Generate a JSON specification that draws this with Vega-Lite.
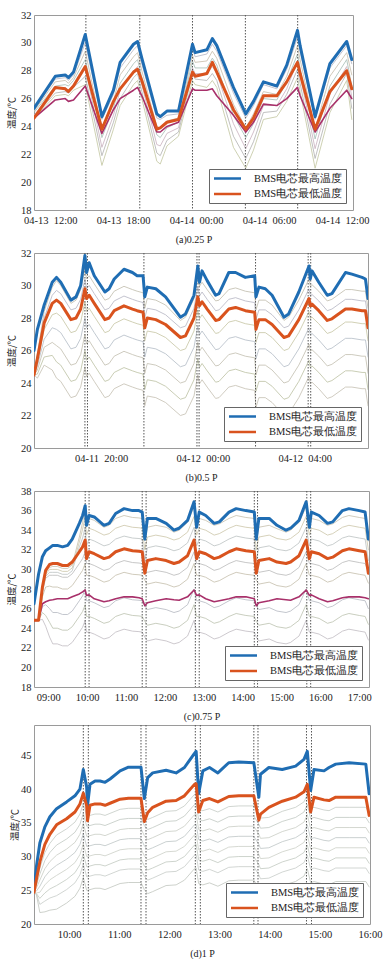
{
"$schema": "https://vega.github.io/schema/vega-lite/v6.json",
"padding": {"left": 6, "top": 9, "right": 2, "bottom": 0},
"background": "white",
"spacing": 2,
"config": {
  "view": {"stroke": "#9a9a9a", "strokeWidth": 1},
  "axis": {"domain": false, "grid": false, "ticks": false, "labelOverlap": false, "labelFont": "Liberation Serif", "labelFontSize": 10.5, "labelColor": "#222", "labelPadding": 3, "titleFont": "Liberation Serif", "titleFontSize": 10, "titleFontWeight": "normal", "titleColor": "#222"},
  "axisY": {"titleFont": "Noto Sans CJK SC", "titleFontSize": 9.5, "titlePadding": 4, "labelOverlap": false},
  "axisX": {"titlePadding": 9, "labelPadding": 5, "labelFlush": false},
  "legend": {"orient": "bottom-right", "offset": 7, "fillColor": "#fff", "strokeColor": "#666", "padding": 3, "symbolType": "M-2.7,0H2.7", "symbolSize": 100, "symbolStrokeWidth": 2.5, "symbolOffset": 9, "labelOffset": 20, "labelFont": "Liberation Serif", "labelFontSize": 10.5, "labelColor": "#222", "rowPadding": 3.5},
  "line": {"strokeJoin": "round", "strokeCap": "round"}
},
"datasets": {
  "a": [
    {"t":"2021-04-13T10:40","max":25.3,"min":24.6,"p":24.6,"g1":25.2,"g2":25.1,"g3":25.0,"g4":24.8,"g5":24.7,"g6":24.6},
    {"t":"2021-04-13T12:25","max":27.6,"min":26.8,"p":25.9,"g1":27.4,"g2":27.2,"g3":26.9,"g4":26.7,"g5":26.4,"g6":26.2},
    {"t":"2021-04-13T13:14","max":27.7,"min":26.7,"p":26.0,"g1":27.5,"g2":27.3,"g3":27.0,"g4":26.8,"g5":26.5,"g6":26.3},
    {"t":"2021-04-13T13:30","max":27.5,"min":26.5,"p":25.8,"g1":27.3,"g2":27.1,"g3":26.9,"g4":26.6,"g5":26.4,"g6":26.2},
    {"t":"2021-04-13T13:55","max":27.9,"min":26.9,"p":25.9,"g1":27.7,"g2":27.5,"g3":27.3,"g4":27.0,"g5":26.8,"g6":26.6},
    {"t":"2021-04-13T14:53","max":30.6,"min":28.3,"p":26.9,"g1":30.0,"g2":29.4,"g3":28.8,"g4":28.2,"g5":27.6,"g6":27.0},
    {"t":"2021-04-13T16:15","max":24.7,"min":23.8,"p":23.5,"g1":24.5,"g2":23.8,"g3":23.2,"g4":22.5,"g5":21.9,"g6":21.2},
    {"t":"2021-04-13T17:12","max":26.6,"min":25.8,"p":25.2,"g1":26.3,"g2":25.8,"g3":25.3,"g4":24.8,"g5":24.3,"g6":23.8},
    {"t":"2021-04-13T17:45","max":28.6,"min":26.7,"p":26.0,"g1":28.2,"g2":27.7,"g3":27.1,"g4":26.6,"g5":26.0,"g6":25.5},
    {"t":"2021-04-13T18:51","max":29.9,"min":27.9,"p":26.6,"g1":29.5,"g2":29.0,"g3":28.5,"g4":28.0,"g5":27.5,"g6":27.0},
    {"t":"2021-04-13T19:11","max":30.1,"min":28.1,"p":26.8,"g1":29.8,"g2":29.3,"g3":28.8,"g4":28.3,"g5":27.8,"g6":27.3},
    {"t":"2021-04-13T19:32","max":28.9,"min":27.3,"p":26.2,"g1":28.5,"g2":28.0,"g3":27.5,"g4":27.0,"g5":26.5,"g6":26.0},
    {"t":"2021-04-13T20:46","max":24.9,"min":23.8,"p":23.6,"g1":24.6,"g2":24.0,"g3":23.4,"g4":22.7,"g5":22.1,"g6":21.5},
    {"t":"2021-04-13T21:03","max":24.7,"min":23.9,"p":23.6,"g1":24.5,"g2":23.9,"g3":23.2,"g4":22.6,"g5":21.9,"g6":21.3},
    {"t":"2021-04-13T21:36","max":25.1,"min":24.3,"p":24.0,"g1":24.8,"g2":24.4,"g3":23.9,"g4":23.5,"g5":23.0,"g6":22.6},
    {"t":"2021-04-13T22:33","max":25.1,"min":24.5,"p":24.3,"g1":24.9,"g2":24.6,"g3":24.3,"g4":23.9,"g5":23.6,"g6":23.3},
    {"t":"2021-04-13T23:42","max":29.9,"min":27.9,"p":26.7,"g1":29.6,"g2":29.1,"g3":28.7,"g4":28.2,"g5":27.8,"g6":27.3},
    {"t":"2021-04-13T23:55","max":29.3,"min":27.6,"p":26.6,"g1":29.0,"g2":28.6,"g3":28.2,"g4":27.8,"g5":27.4,"g6":27.0},
    {"t":"2021-04-14T00:53","max":29.5,"min":27.8,"p":26.6,"g1":29.2,"g2":28.7,"g3":28.2,"g4":27.8,"g5":27.3,"g6":26.8},
    {"t":"2021-04-14T01:20","max":30.3,"min":28.6,"p":26.7,"g1":29.9,"g2":29.4,"g3":28.9,"g4":28.3,"g5":27.8,"g6":27.3},
    {"t":"2021-04-14T01:42","max":29.8,"min":27.9,"p":26.2,"g1":29.4,"g2":28.9,"g3":28.4,"g4":27.8,"g5":27.3,"g6":26.8},
    {"t":"2021-04-14T03:04","max":26.8,"min":25.2,"p":24.8,"g1":26.4,"g2":25.6,"g3":24.8,"g4":24.2,"g5":23.3,"g6":22.5},
    {"t":"2021-04-14T04:05","max":24.9,"min":23.8,"p":23.6,"g1":24.6,"g2":23.9,"g3":23.2,"g4":22.4,"g5":21.7,"g6":21.0},
    {"t":"2021-04-14T04:43","max":25.8,"min":24.6,"p":24.3,"g1":25.5,"g2":24.9,"g3":24.2,"g4":23.6,"g5":22.9,"g6":22.3},
    {"t":"2021-04-14T05:32","max":27.2,"min":26.2,"p":25.6,"g1":27.0,"g2":26.5,"g3":26.0,"g4":25.5,"g5":25.0,"g6":24.5},
    {"t":"2021-04-14T06:38","max":26.9,"min":26.2,"p":25.5,"g1":26.7,"g2":26.3,"g3":25.9,"g4":25.5,"g5":25.1,"g6":24.7},
    {"t":"2021-04-14T07:27","max":28.4,"min":27.2,"p":26.0,"g1":28.1,"g2":27.6,"g3":27.2,"g4":26.7,"g5":26.3,"g6":25.8},
    {"t":"2021-04-14T08:20","max":30.9,"min":28.6,"p":26.8,"g1":30.4,"g2":29.8,"g3":29.2,"g4":28.7,"g5":28.1,"g6":27.5},
    {"t":"2021-04-14T08:33","max":29.8,"min":27.8,"p":26.2,"g1":29.4,"g2":28.8,"g3":28.2,"g4":27.7,"g5":27.1,"g6":26.5},
    {"t":"2021-04-14T09:47","max":24.7,"min":23.8,"p":23.6,"g1":24.5,"g2":23.8,"g3":23.1,"g4":22.4,"g5":21.7,"g6":21.0},
    {"t":"2021-04-14T11:00","max":28.5,"min":26.5,"p":25.3,"g1":28.2,"g2":27.6,"g3":26.9,"g4":26.3,"g5":25.6,"g6":25.0},
    {"t":"2021-04-14T12:23","max":30.1,"min":28.0,"p":26.6,"g1":29.8,"g2":29.3,"g3":28.8,"g4":28.3,"g5":27.8,"g6":27.3},
    {"t":"2021-04-14T12:48","max":28.8,"min":26.7,"p":26.0,"g1":28.5,"g2":27.7,"g3":26.9,"g4":26.1,"g5":25.3,"g6":24.5}
  ],
  "a_dash": [{"t":"2021-04-13T14:56"},{"t":"2021-04-13T19:22"},{"t":"2021-04-13T23:42"},{"t":"2021-04-14T04:03"},{"t":"2021-04-14T08:21"}],
  "b": [
    {"t":"2021-04-11T17:22","max":26.0,"min":24.5,"g1":24.5,"g2":24.5,"g3":24.5,"g4":24.5,"g5":24.5,"g6":24.5,"g7":24.5},
    {"t":"2021-04-11T17:30","max":27.3,"min":25.5,"g1":25.8,"g2":25.65,"g3":25.3,"g4":25.05,"g5":24.8,"g6":24.55,"g7":24.3},
    {"t":"2021-04-11T17:46","max":28.8,"min":27.7,"g1":28.4,"g2":28.0,"g3":27.3,"g4":26.7,"g5":26.2,"g6":25.6,"g7":25.1},
    {"t":"2021-04-11T18:05","max":30.2,"min":28.9,"g1":29.9,"g2":29.4,"g3":28.2,"g4":27.4,"g5":26.5,"g6":25.7,"g7":24.8},
    {"t":"2021-04-11T18:15","max":30.5,"min":29.1,"g1":30.3,"g2":29.7,"g3":28.3,"g4":27.3,"g5":26.3,"g6":25.3,"g7":24.3},
    {"t":"2021-04-11T18:25","max":30.2,"min":28.9,"g1":30.0,"g2":29.5,"g3":28.1,"g4":27.1,"g5":26.1,"g6":25.1,"g7":24.1},
    {"t":"2021-04-11T18:49","max":29.1,"min":27.9,"g1":28.9,"g2":28.5,"g3":27.1,"g4":26.1,"g5":25.1,"g6":24.1,"g7":23.1},
    {"t":"2021-04-11T19:01","max":29.3,"min":28.0,"g1":29.1,"g2":28.6,"g3":27.2,"g4":26.2,"g5":25.2,"g6":24.2,"g7":23.2},
    {"t":"2021-04-11T19:12","max":30.0,"min":28.55,"g1":29.75,"g2":29.15,"g3":27.75,"g4":26.75,"g5":25.75,"g6":24.75,"g7":23.75},
    {"t":"2021-04-11T19:22","max":31.85,"min":29.8,"g1":31.0,"g2":30.4,"g3":29.0,"g4":28.0,"g5":27.0,"g6":26.0,"g7":25.0},
    {"t":"2021-04-11T19:26","max":30.8,"min":29.2,"g1":30.4,"g2":29.8,"g3":28.4,"g4":27.4,"g5":26.4,"g6":25.4,"g7":24.4},
    {"t":"2021-04-11T19:32","max":31.4,"min":29.4,"g1":30.6,"g2":30.0,"g3":28.6,"g4":27.6,"g5":26.6,"g6":25.6,"g7":24.6},
    {"t":"2021-04-11T19:44","max":30.6,"min":28.9,"g1":30.1,"g2":29.5,"g3":28.1,"g4":27.1,"g5":26.1,"g6":25.1,"g7":24.1},
    {"t":"2021-04-11T20:09","max":29.6,"min":27.9,"g1":29.1,"g2":28.5,"g3":27.1,"g4":26.1,"g5":25.1,"g6":24.1,"g7":23.1},
    {"t":"2021-04-11T20:19","max":29.8,"min":28.0,"g1":29.2,"g2":28.6,"g3":27.2,"g4":26.2,"g5":25.2,"g6":24.2,"g7":23.2},
    {"t":"2021-04-11T20:31","max":30.4,"min":28.45,"g1":29.65,"g2":29.05,"g3":27.65,"g4":26.65,"g5":25.65,"g6":24.65,"g7":23.65},
    {"t":"2021-04-11T20:54","max":31.0,"min":28.75,"g1":29.95,"g2":29.35,"g3":27.95,"g4":26.95,"g5":25.95,"g6":24.95,"g7":23.95},
    {"t":"2021-04-11T21:14","max":30.8,"min":28.55,"g1":29.75,"g2":29.15,"g3":27.75,"g4":26.75,"g5":25.75,"g6":24.75,"g7":23.75},
    {"t":"2021-04-11T21:25","max":30.6,"min":28.45,"g1":29.65,"g2":29.05,"g3":27.65,"g4":26.65,"g5":25.65,"g6":24.65,"g7":23.65},
    {"t":"2021-04-11T21:39","max":30.6,"min":28.35,"g1":29.55,"g2":28.95,"g3":27.55,"g4":26.55,"g5":25.55,"g6":24.55,"g7":23.55},
    {"t":"2021-04-11T21:43","max":29.3,"min":27.4,"g1":28.6,"g2":28.0,"g3":26.6,"g4":25.6,"g5":24.6,"g6":23.6,"g7":22.6},
    {"t":"2021-04-11T21:49","max":29.9,"min":28.0,"g1":29.2,"g2":28.6,"g3":27.2,"g4":26.2,"g5":25.2,"g6":24.2,"g7":23.2},
    {"t":"2021-04-11T22:09","max":29.8,"min":27.9,"g1":29.1,"g2":28.5,"g3":27.1,"g4":26.1,"g5":25.1,"g6":24.1,"g7":23.1},
    {"t":"2021-04-11T22:32","max":29.3,"min":27.6,"g1":28.8,"g2":28.2,"g3":26.8,"g4":25.8,"g5":24.8,"g6":23.8,"g7":22.8},
    {"t":"2021-04-11T23:07","max":28.05,"min":26.8,"g1":27.85,"g2":27.4,"g3":26.0,"g4":25.0,"g5":24.0,"g6":23.0,"g7":22.0},
    {"t":"2021-04-11T23:19","max":28.25,"min":26.9,"g1":28.05,"g2":27.5,"g3":26.1,"g4":25.1,"g5":24.1,"g6":23.1,"g7":22.1},
    {"t":"2021-04-11T23:39","max":29.4,"min":28.0,"g1":29.2,"g2":28.6,"g3":27.2,"g4":26.2,"g5":25.2,"g6":24.2,"g7":23.2},
    {"t":"2021-04-11T23:48","max":31.2,"min":29.3,"g1":30.5,"g2":29.9,"g3":28.5,"g4":27.5,"g5":26.5,"g6":25.5,"g7":24.5},
    {"t":"2021-04-11T23:52","max":30.2,"min":28.75,"g1":29.95,"g2":29.35,"g3":27.95,"g4":26.95,"g5":25.95,"g6":24.95,"g7":23.95},
    {"t":"2021-04-11T23:58","max":30.9,"min":29.0,"g1":30.2,"g2":29.6,"g3":28.2,"g4":27.2,"g5":26.2,"g6":25.2,"g7":24.2},
    {"t":"2021-04-12T00:10","max":30.3,"min":28.55,"g1":29.75,"g2":29.15,"g3":27.75,"g4":26.75,"g5":25.75,"g6":24.75,"g7":23.75},
    {"t":"2021-04-12T00:30","max":29.4,"min":27.85,"g1":29.05,"g2":28.45,"g3":27.05,"g4":26.05,"g5":25.05,"g6":24.05,"g7":23.05},
    {"t":"2021-04-12T00:38","max":29.5,"min":27.9,"g1":29.1,"g2":28.5,"g3":27.1,"g4":26.1,"g5":25.1,"g6":24.1,"g7":23.1},
    {"t":"2021-04-12T01:01","max":30.8,"min":28.55,"g1":29.75,"g2":29.15,"g3":27.75,"g4":26.75,"g5":25.75,"g6":24.75,"g7":23.75},
    {"t":"2021-04-12T01:17","max":30.8,"min":28.65,"g1":29.85,"g2":29.25,"g3":27.85,"g4":26.85,"g5":25.85,"g6":24.85,"g7":23.85},
    {"t":"2021-04-12T01:40","max":30.5,"min":28.45,"g1":29.65,"g2":29.05,"g3":27.65,"g4":26.65,"g5":25.65,"g6":24.65,"g7":23.65},
    {"t":"2021-04-12T02:02","max":30.6,"min":28.35,"g1":29.55,"g2":28.95,"g3":27.55,"g4":26.55,"g5":25.55,"g6":24.55,"g7":23.55},
    {"t":"2021-04-12T02:05","max":29.3,"min":27.3,"g1":28.5,"g2":27.9,"g3":26.5,"g4":25.5,"g5":24.5,"g6":23.5,"g7":22.5},
    {"t":"2021-04-12T02:12","max":29.9,"min":27.9,"g1":29.1,"g2":28.5,"g3":27.1,"g4":26.1,"g5":25.1,"g6":24.1,"g7":23.1},
    {"t":"2021-04-12T02:27","max":29.8,"min":27.9,"g1":29.1,"g2":28.5,"g3":27.1,"g4":26.1,"g5":25.1,"g6":24.1,"g7":23.1},
    {"t":"2021-04-12T02:43","max":29.4,"min":27.6,"g1":28.8,"g2":28.2,"g3":26.8,"g4":25.8,"g5":24.8,"g6":23.8,"g7":22.8},
    {"t":"2021-04-12T03:11","max":28.05,"min":26.8,"g1":27.85,"g2":27.4,"g3":26.0,"g4":25.0,"g5":24.0,"g6":23.0,"g7":22.0},
    {"t":"2021-04-12T03:22","max":28.25,"min":26.9,"g1":28.05,"g2":27.5,"g3":26.1,"g4":25.1,"g5":24.1,"g6":23.1,"g7":22.1},
    {"t":"2021-04-12T03:46","max":29.6,"min":27.9,"g1":29.1,"g2":28.5,"g3":27.1,"g4":26.1,"g5":25.1,"g6":24.1,"g7":23.1},
    {"t":"2021-04-12T04:10","max":31.2,"min":29.2,"g1":30.4,"g2":29.8,"g3":28.4,"g4":27.4,"g5":26.4,"g6":25.4,"g7":24.4},
    {"t":"2021-04-12T04:13","max":30.4,"min":28.75,"g1":29.95,"g2":29.35,"g3":27.95,"g4":26.95,"g5":25.95,"g6":24.95,"g7":23.95},
    {"t":"2021-04-12T04:17","max":30.9,"min":28.85,"g1":30.05,"g2":29.45,"g3":28.05,"g4":27.05,"g5":26.05,"g6":25.05,"g7":24.05},
    {"t":"2021-04-12T04:33","max":30.2,"min":28.45,"g1":29.65,"g2":29.05,"g3":27.65,"g4":26.65,"g5":25.65,"g6":24.65,"g7":23.65},
    {"t":"2021-04-12T04:53","max":29.4,"min":27.85,"g1":29.05,"g2":28.45,"g3":27.05,"g4":26.05,"g5":25.05,"g6":24.05,"g7":23.05},
    {"t":"2021-04-12T05:04","max":29.5,"min":27.95,"g1":29.15,"g2":28.55,"g3":27.15,"g4":26.15,"g5":25.15,"g6":24.15,"g7":23.15},
    {"t":"2021-04-12T05:36","max":30.8,"min":28.55,"g1":29.75,"g2":29.15,"g3":27.75,"g4":26.75,"g5":25.75,"g6":24.75,"g7":23.75},
    {"t":"2021-04-12T05:51","max":30.7,"min":28.55,"g1":29.75,"g2":29.15,"g3":27.75,"g4":26.75,"g5":25.75,"g6":24.75,"g7":23.75},
    {"t":"2021-04-12T06:15","max":30.5,"min":28.45,"g1":29.65,"g2":29.05,"g3":27.65,"g4":26.65,"g5":25.65,"g6":24.65,"g7":23.65},
    {"t":"2021-04-12T06:23","max":30.4,"min":28.45,"g1":29.65,"g2":29.05,"g3":27.65,"g4":26.65,"g5":25.65,"g6":24.65,"g7":23.65},
    {"t":"2021-04-12T06:29","max":29.2,"min":27.4,"g1":28.6,"g2":28.0,"g3":26.6,"g4":25.6,"g5":24.6,"g6":23.6,"g7":22.6}
  ],
  "b_dash": [{"t":"2021-04-11T19:22"},{"t":"2021-04-11T19:28"},{"t":"2021-04-11T21:41"},{"t":"2021-04-11T23:46"},{"t":"2021-04-11T23:51"},{"t":"2021-04-12T02:04"},{"t":"2021-04-12T04:08"},{"t":"2021-04-12T04:14"}],
  "c": [
    {"t":"2021-04-15T08:38","max":26.5,"min":24.8,"p":24.8,"g1":24.8,"g2":24.8,"g3":24.8,"g4":24.8,"g5":24.8,"g6":24.8,"g7":24.8,"g8":24.8},
    {"t":"2021-04-15T08:45","max":29.5,"min":24.8,"p":24.8,"g1":24.8,"g2":24.8,"g3":24.8,"g4":24.8,"g5":24.8,"g6":24.8,"g7":24.8,"g8":24.8},
    {"t":"2021-04-15T08:51","max":31.3,"min":28.2,"p":26.5,"g1":28.1,"g2":28.0,"g3":27.8,"g4":27.7,"g5":27.2,"g6":26.2,"g7":25.6,"g8":24.9},
    {"t":"2021-04-15T08:56","max":31.9,"min":29.9,"p":26.7,"g1":29.7,"g2":29.5,"g3":29.3,"g4":29.1,"g5":28.2,"g6":26.4,"g7":25.3,"g8":24.2},
    {"t":"2021-04-15T09:02","max":32.2,"min":30.5,"p":26.85,"g1":30.2,"g2":30.0,"g3":29.7,"g4":29.4,"g5":28.3,"g6":26.0,"g7":24.6,"g8":23.1},
    {"t":"2021-04-15T09:07","max":32.45,"min":30.6,"p":26.9,"g1":30.3,"g2":30.0,"g3":29.7,"g4":29.4,"g5":28.2,"g6":25.6,"g7":24.0,"g8":22.4},
    {"t":"2021-04-15T09:14","max":32.45,"min":30.6,"p":27.0,"g1":30.3,"g2":30.0,"g3":29.7,"g4":29.4,"g5":28.2,"g6":25.6,"g7":24.0,"g8":22.4},
    {"t":"2021-04-15T09:22","max":32.3,"min":30.4,"p":27.0,"g1":30.1,"g2":29.8,"g3":29.5,"g4":29.2,"g5":28.0,"g6":25.4,"g7":23.8,"g8":22.2},
    {"t":"2021-04-15T09:30","max":32.45,"min":30.4,"p":27.0,"g1":30.1,"g2":29.8,"g3":29.5,"g4":29.2,"g5":28.0,"g6":25.4,"g7":23.8,"g8":22.2},
    {"t":"2021-04-15T09:37","max":33.1,"min":30.75,"p":27.2,"g1":30.45,"g2":30.15,"g3":29.85,"g4":29.55,"g5":28.35,"g6":25.75,"g7":24.15,"g8":22.55},
    {"t":"2021-04-15T09:48","max":34.7,"min":31.8,"p":27.5,"g1":33.3,"g2":32.8,"g3":32.3,"g4":30.6,"g5":29.4,"g6":26.8,"g7":25.2,"g8":23.6},
    {"t":"2021-04-15T09:53","max":35.5,"min":32.3,"p":27.7,"g1":34.8,"g2":34.1,"g3":33.2,"g4":31.1,"g5":29.9,"g6":27.3,"g7":25.7,"g8":24.1},
    {"t":"2021-04-15T09:57","max":36.5,"min":33.0,"p":27.9,"g1":36.4,"g2":35.4,"g3":34.3,"g4":31.8,"g5":30.6,"g6":28.0,"g7":26.4,"g8":24.8},
    {"t":"2021-04-15T09:59","max":34.5,"min":31.1,"p":27.35,"g1":34.3,"g2":33.5,"g3":32.4,"g4":30.6,"g5":29.4,"g6":26.8,"g7":25.2,"g8":23.6},
    {"t":"2021-04-15T10:03","max":35.5,"min":31.8,"p":27.4,"g1":35.2,"g2":34.2,"g3":33.1,"g4":30.6,"g5":29.4,"g6":26.8,"g7":25.2,"g8":23.6},
    {"t":"2021-04-15T10:11","max":35.35,"min":31.6,"p":27.0,"g1":35.0,"g2":34.0,"g3":32.9,"g4":30.4,"g5":29.2,"g6":26.6,"g7":25.0,"g8":23.4},
    {"t":"2021-04-15T10:26","max":34.5,"min":31.1,"p":26.7,"g1":34.3,"g2":33.5,"g3":32.4,"g4":29.9,"g5":28.7,"g6":26.1,"g7":24.5,"g8":22.9},
    {"t":"2021-04-15T10:34","max":34.7,"min":31.25,"p":26.8,"g1":34.5,"g2":33.65,"g3":32.55,"g4":30.05,"g5":28.85,"g6":26.25,"g7":24.65,"g8":23.05},
    {"t":"2021-04-15T10:44","max":35.7,"min":31.8,"p":27.0,"g1":35.2,"g2":34.2,"g3":33.1,"g4":30.6,"g5":29.4,"g6":26.8,"g7":25.2,"g8":23.6},
    {"t":"2021-04-15T10:57","max":36.2,"min":32.1,"p":27.2,"g1":35.5,"g2":34.5,"g3":33.4,"g4":30.9,"g5":29.7,"g6":27.1,"g7":25.5,"g8":23.9},
    {"t":"2021-04-15T11:10","max":36.0,"min":31.9,"p":27.2,"g1":35.3,"g2":34.3,"g3":33.2,"g4":30.7,"g5":29.5,"g6":26.9,"g7":25.3,"g8":23.7},
    {"t":"2021-04-15T11:20","max":36.0,"min":31.85,"p":27.1,"g1":35.25,"g2":34.25,"g3":33.15,"g4":30.65,"g5":29.45,"g6":26.85,"g7":25.25,"g8":23.65},
    {"t":"2021-04-15T11:25","max":35.85,"min":31.8,"p":27.0,"g1":35.2,"g2":34.2,"g3":33.1,"g4":30.6,"g5":29.4,"g6":26.8,"g7":25.2,"g8":23.6},
    {"t":"2021-04-15T11:29","max":33.1,"min":29.6,"p":26.3,"g1":32.9,"g2":32.0,"g3":30.9,"g4":30.1,"g5":28.9,"g6":26.3,"g7":24.7,"g8":23.1},
    {"t":"2021-04-15T11:33","max":35.2,"min":30.9,"p":26.6,"g1":34.3,"g2":33.3,"g3":32.2,"g4":29.7,"g5":28.5,"g6":25.9,"g7":24.3,"g8":22.7},
    {"t":"2021-04-15T11:46","max":35.2,"min":31.1,"p":26.8,"g1":34.5,"g2":33.5,"g3":32.4,"g4":29.9,"g5":28.7,"g6":26.1,"g7":24.5,"g8":22.9},
    {"t":"2021-04-15T12:02","max":34.7,"min":30.9,"p":27.0,"g1":34.3,"g2":33.3,"g3":32.2,"g4":29.7,"g5":28.5,"g6":25.9,"g7":24.3,"g8":22.7},
    {"t":"2021-04-15T12:14","max":34.0,"min":30.6,"p":26.9,"g1":33.8,"g2":33.0,"g3":31.9,"g4":29.4,"g5":28.2,"g6":25.6,"g7":24.0,"g8":22.4},
    {"t":"2021-04-15T12:22","max":34.2,"min":30.75,"p":26.85,"g1":34.0,"g2":33.15,"g3":32.05,"g4":29.55,"g5":28.35,"g6":25.75,"g7":24.15,"g8":22.55},
    {"t":"2021-04-15T12:35","max":35.0,"min":31.4,"p":27.2,"g1":34.8,"g2":33.8,"g3":32.7,"g4":30.2,"g5":29.0,"g6":26.4,"g7":24.8,"g8":23.2},
    {"t":"2021-04-15T12:45","max":36.9,"min":33.0,"p":27.9,"g1":36.4,"g2":35.4,"g3":34.3,"g4":31.8,"g5":30.6,"g6":28.0,"g7":26.4,"g8":24.8},
    {"t":"2021-04-15T12:49","max":34.3,"min":31.1,"p":27.35,"g1":34.1,"g2":33.5,"g3":32.4,"g4":30.6,"g5":29.4,"g6":26.8,"g7":25.2,"g8":23.6},
    {"t":"2021-04-15T12:53","max":35.85,"min":31.8,"p":27.4,"g1":35.2,"g2":34.2,"g3":33.1,"g4":30.6,"g5":29.4,"g6":26.8,"g7":25.2,"g8":23.6},
    {"t":"2021-04-15T13:03","max":35.5,"min":31.6,"p":27.0,"g1":35.0,"g2":34.0,"g3":32.9,"g4":30.4,"g5":29.2,"g6":26.6,"g7":25.0,"g8":23.4},
    {"t":"2021-04-15T13:16","max":34.7,"min":31.1,"p":26.7,"g1":34.5,"g2":33.5,"g3":32.4,"g4":29.9,"g5":28.7,"g6":26.1,"g7":24.5,"g8":22.9},
    {"t":"2021-04-15T13:24","max":34.85,"min":31.25,"p":26.8,"g1":34.65,"g2":33.65,"g3":32.55,"g4":30.05,"g5":28.85,"g6":26.25,"g7":24.65,"g8":23.05},
    {"t":"2021-04-15T13:39","max":35.85,"min":31.8,"p":27.0,"g1":35.2,"g2":34.2,"g3":33.1,"g4":30.6,"g5":29.4,"g6":26.8,"g7":25.2,"g8":23.6},
    {"t":"2021-04-15T13:50","max":36.2,"min":32.1,"p":27.2,"g1":35.5,"g2":34.5,"g3":33.4,"g4":30.9,"g5":29.7,"g6":27.1,"g7":25.5,"g8":23.9},
    {"t":"2021-04-15T14:05","max":36.0,"min":31.9,"p":27.2,"g1":35.3,"g2":34.3,"g3":33.2,"g4":30.7,"g5":29.5,"g6":26.9,"g7":25.3,"g8":23.7},
    {"t":"2021-04-15T14:18","max":35.85,"min":31.8,"p":27.0,"g1":35.2,"g2":34.2,"g3":33.1,"g4":30.6,"g5":29.4,"g6":26.8,"g7":25.2,"g8":23.6},
    {"t":"2021-04-15T14:21","max":33.1,"min":29.6,"p":26.3,"g1":32.9,"g2":32.0,"g3":30.9,"g4":30.1,"g5":28.9,"g6":26.3,"g7":24.7,"g8":23.1},
    {"t":"2021-04-15T14:25","max":35.2,"min":30.9,"p":26.6,"g1":34.3,"g2":33.3,"g3":32.2,"g4":29.7,"g5":28.5,"g6":25.9,"g7":24.3,"g8":22.7},
    {"t":"2021-04-15T14:41","max":35.2,"min":31.1,"p":26.8,"g1":34.5,"g2":33.5,"g3":32.4,"g4":29.9,"g5":28.7,"g6":26.1,"g7":24.5,"g8":22.9},
    {"t":"2021-04-15T14:53","max":34.5,"min":30.75,"p":27.0,"g1":34.15,"g2":33.15,"g3":32.05,"g4":29.55,"g5":28.35,"g6":25.75,"g7":24.15,"g8":22.55},
    {"t":"2021-04-15T15:07","max":34.0,"min":30.6,"p":26.9,"g1":33.8,"g2":33.0,"g3":31.9,"g4":29.4,"g5":28.2,"g6":25.6,"g7":24.0,"g8":22.4},
    {"t":"2021-04-15T15:14","max":34.2,"min":30.75,"p":26.85,"g1":34.0,"g2":33.15,"g3":32.05,"g4":29.55,"g5":28.35,"g6":25.75,"g7":24.15,"g8":22.55},
    {"t":"2021-04-15T15:27","max":35.0,"min":31.4,"p":27.2,"g1":34.8,"g2":33.8,"g3":32.7,"g4":30.2,"g5":29.0,"g6":26.4,"g7":24.8,"g8":23.2},
    {"t":"2021-04-15T15:38","max":36.9,"min":33.0,"p":27.9,"g1":36.4,"g2":35.4,"g3":34.3,"g4":31.8,"g5":30.6,"g6":28.0,"g7":26.4,"g8":24.8},
    {"t":"2021-04-15T15:43","max":34.3,"min":31.1,"p":27.35,"g1":34.1,"g2":33.5,"g3":32.4,"g4":30.6,"g5":29.4,"g6":26.8,"g7":25.2,"g8":23.6},
    {"t":"2021-04-15T15:46","max":35.85,"min":31.8,"p":27.4,"g1":35.2,"g2":34.2,"g3":33.1,"g4":30.6,"g5":29.4,"g6":26.8,"g7":25.2,"g8":23.6},
    {"t":"2021-04-15T15:58","max":35.5,"min":31.6,"p":27.0,"g1":35.0,"g2":34.0,"g3":32.9,"g4":30.4,"g5":29.2,"g6":26.6,"g7":25.0,"g8":23.4},
    {"t":"2021-04-15T16:11","max":34.7,"min":31.1,"p":26.7,"g1":34.5,"g2":33.5,"g3":32.4,"g4":29.9,"g5":28.7,"g6":26.1,"g7":24.5,"g8":22.9},
    {"t":"2021-04-15T16:19","max":34.85,"min":31.25,"p":26.8,"g1":34.65,"g2":33.65,"g3":32.55,"g4":30.05,"g5":28.85,"g6":26.25,"g7":24.65,"g8":23.05},
    {"t":"2021-04-15T16:34","max":36.0,"min":31.9,"p":27.1,"g1":35.3,"g2":34.3,"g3":33.2,"g4":30.7,"g5":29.5,"g6":26.9,"g7":25.3,"g8":23.7},
    {"t":"2021-04-15T16:44","max":36.2,"min":32.1,"p":27.2,"g1":35.5,"g2":34.5,"g3":33.4,"g4":30.9,"g5":29.7,"g6":27.1,"g7":25.5,"g8":23.9},
    {"t":"2021-04-15T17:00","max":36.0,"min":31.9,"p":27.2,"g1":35.3,"g2":34.3,"g3":33.2,"g4":30.7,"g5":29.5,"g6":26.9,"g7":25.3,"g8":23.7},
    {"t":"2021-04-15T17:09","max":35.85,"min":31.8,"p":27.1,"g1":35.2,"g2":34.2,"g3":33.1,"g4":30.6,"g5":29.4,"g6":26.8,"g7":25.2,"g8":23.6},
    {"t":"2021-04-15T17:14","max":33.1,"min":29.6,"p":27.0,"g1":32.9,"g2":32.0,"g3":30.9,"g4":29.8,"g5":28.6,"g6":26.0,"g7":24.4,"g8":22.8}
  ],
  "c_dash": [{"t":"2021-04-15T09:57"},{"t":"2021-04-15T10:03"},{"t":"2021-04-15T11:25"},{"t":"2021-04-15T11:31"},{"t":"2021-04-15T12:47"},{"t":"2021-04-15T12:53"},{"t":"2021-04-15T14:18"},{"t":"2021-04-15T14:23"},{"t":"2021-04-15T15:39"},{"t":"2021-04-15T15:45"}],
  "d": [
    {"t":"2021-04-16T09:18","max":25.2,"min":24.7,"g1":24.7,"g2":24.7,"g3":24.7,"g4":24.7,"g5":24.7,"g6":24.7,"g7":24.7,"g8":24.7},
    {"t":"2021-04-16T09:21","max":28.6,"min":26.7,"g1":26.3,"g2":25.8,"g3":25.4,"g4":24.9,"g5":24.6,"g6":24.5,"g7":24.4,"g8":24.3},
    {"t":"2021-04-16T09:25","max":32.0,"min":29.2,"g1":28.3,"g2":27.4,"g3":26.5,"g4":25.6,"g5":24.7,"g6":23.8,"g7":22.9,"g8":21.7},
    {"t":"2021-04-16T09:31","max":34.4,"min":31.8,"g1":30.6,"g2":29.4,"g3":28.2,"g4":27.0,"g5":25.8,"g6":24.6,"g7":23.4,"g8":21.8},
    {"t":"2021-04-16T09:37","max":35.9,"min":33.3,"g1":31.95,"g2":30.6,"g3":29.25,"g4":27.9,"g5":26.55,"g6":25.2,"g7":23.85,"g8":22.05},
    {"t":"2021-04-16T09:45","max":37.1,"min":34.7,"g1":33.2,"g2":31.7,"g3":30.2,"g4":28.7,"g5":27.2,"g6":25.7,"g7":24.2,"g8":22.2},
    {"t":"2021-04-16T09:57","max":38.1,"min":35.6,"g1":34.1,"g2":32.6,"g3":31.1,"g4":29.6,"g5":28.1,"g6":26.6,"g7":25.1,"g8":23.1},
    {"t":"2021-04-16T10:07","max":39.0,"min":36.6,"g1":35.1,"g2":33.6,"g3":32.1,"g4":30.6,"g5":29.1,"g6":27.6,"g7":26.1,"g8":24.1},
    {"t":"2021-04-16T10:13","max":40.0,"min":37.8,"g1":36.3,"g2":34.8,"g3":33.3,"g4":31.8,"g5":30.3,"g6":28.8,"g7":27.3,"g8":25.3},
    {"t":"2021-04-16T10:17","max":42.9,"min":39.4,"g1":37.9,"g2":36.4,"g3":34.9,"g4":33.4,"g5":31.9,"g6":30.4,"g7":28.9,"g8":26.9},
    {"t":"2021-04-16T10:21","max":40.3,"min":37.5,"g1":36.0,"g2":34.5,"g3":33.0,"g4":31.5,"g5":30.0,"g6":28.5,"g7":27.0,"g8":25.0},
    {"t":"2021-04-16T10:22","max":37.5,"min":35.3,"g1":36.0,"g2":34.5,"g3":33.0,"g4":31.5,"g5":30.0,"g6":28.5,"g7":27.0,"g8":25.0},
    {"t":"2021-04-16T10:25","max":40.7,"min":37.6,"g1":36.1,"g2":34.6,"g3":33.1,"g4":31.6,"g5":30.1,"g6":28.6,"g7":27.1,"g8":25.1},
    {"t":"2021-04-16T10:31","max":41.2,"min":37.8,"g1":36.3,"g2":34.8,"g3":33.3,"g4":31.8,"g5":30.3,"g6":28.8,"g7":27.3,"g8":25.3},
    {"t":"2021-04-16T10:37","max":41.2,"min":37.8,"g1":36.3,"g2":34.8,"g3":33.3,"g4":31.8,"g5":30.3,"g6":28.8,"g7":27.3,"g8":25.3},
    {"t":"2021-04-16T10:43","max":41.0,"min":37.6,"g1":36.1,"g2":34.6,"g3":33.1,"g4":31.6,"g5":30.1,"g6":28.6,"g7":27.1,"g8":25.1},
    {"t":"2021-04-16T10:49","max":41.5,"min":37.9,"g1":36.4,"g2":34.9,"g3":33.4,"g4":31.9,"g5":30.4,"g6":28.9,"g7":27.4,"g8":25.4},
    {"t":"2021-04-16T11:01","max":42.7,"min":38.5,"g1":37.0,"g2":35.5,"g3":34.0,"g4":32.5,"g5":31.0,"g6":29.5,"g7":28.0,"g8":26.0},
    {"t":"2021-04-16T11:11","max":43.25,"min":38.65,"g1":37.15,"g2":35.65,"g3":34.15,"g4":32.65,"g5":31.15,"g6":29.65,"g7":28.15,"g8":26.15},
    {"t":"2021-04-16T11:26","max":43.25,"min":38.65,"g1":37.15,"g2":35.65,"g3":34.15,"g4":32.65,"g5":31.15,"g6":29.65,"g7":28.15,"g8":26.15},
    {"t":"2021-04-16T11:30","max":38.6,"min":35.2,"g1":36.1,"g2":34.6,"g3":33.1,"g4":31.6,"g5":30.1,"g6":28.6,"g7":27.1,"g8":25.1},
    {"t":"2021-04-16T11:34","max":41.7,"min":36.5,"g1":35.5,"g2":34.0,"g3":32.5,"g4":31.0,"g5":29.5,"g6":28.0,"g7":26.5,"g8":24.5},
    {"t":"2021-04-16T11:40","max":42.4,"min":37.3,"g1":35.8,"g2":34.3,"g3":32.8,"g4":31.3,"g5":29.8,"g6":28.3,"g7":26.8,"g8":24.8},
    {"t":"2021-04-16T11:56","max":42.8,"min":38.2,"g1":36.7,"g2":35.2,"g3":33.7,"g4":32.2,"g5":30.7,"g6":29.2,"g7":27.7,"g8":25.7},
    {"t":"2021-04-16T12:08","max":42.4,"min":38.3,"g1":36.8,"g2":35.3,"g3":33.8,"g4":32.3,"g5":30.8,"g6":29.3,"g7":27.8,"g8":25.8},
    {"t":"2021-04-16T12:18","max":43.2,"min":39.0,"g1":37.5,"g2":36.0,"g3":34.5,"g4":33.0,"g5":31.5,"g6":30.0,"g7":28.5,"g8":26.5},
    {"t":"2021-04-16T12:30","max":45.3,"min":40.7,"g1":39.2,"g2":37.7,"g3":36.2,"g4":34.7,"g5":33.2,"g6":31.7,"g7":30.2,"g8":28.2},
    {"t":"2021-04-16T12:32","max":45.6,"min":40.8,"g1":39.3,"g2":37.8,"g3":36.3,"g4":34.8,"g5":33.3,"g6":31.8,"g7":30.3,"g8":28.3},
    {"t":"2021-04-16T12:35","max":39.3,"min":36.6,"g1":37.0,"g2":35.5,"g3":34.0,"g4":32.5,"g5":31.0,"g6":29.5,"g7":28.0,"g8":26.0},
    {"t":"2021-04-16T12:40","max":42.7,"min":38.3,"g1":36.8,"g2":35.3,"g3":33.8,"g4":32.3,"g5":30.8,"g6":29.3,"g7":27.8,"g8":25.8},
    {"t":"2021-04-16T12:48","max":43.2,"min":38.6,"g1":37.1,"g2":35.6,"g3":34.1,"g4":32.6,"g5":31.1,"g6":29.6,"g7":28.1,"g8":26.1},
    {"t":"2021-04-16T12:58","max":42.4,"min":38.1,"g1":36.6,"g2":35.1,"g3":33.6,"g4":32.1,"g5":30.6,"g6":29.1,"g7":27.6,"g8":25.6},
    {"t":"2021-04-16T13:11","max":43.9,"min":38.9,"g1":37.4,"g2":35.9,"g3":34.4,"g4":32.9,"g5":31.4,"g6":29.9,"g7":28.4,"g8":26.4},
    {"t":"2021-04-16T13:23","max":44.0,"min":39.0,"g1":37.5,"g2":36.0,"g3":34.5,"g4":33.0,"g5":31.5,"g6":30.0,"g7":28.5,"g8":26.5},
    {"t":"2021-04-16T13:41","max":43.9,"min":39.0,"g1":37.5,"g2":36.0,"g3":34.5,"g4":33.0,"g5":31.5,"g6":30.0,"g7":28.5,"g8":26.5},
    {"t":"2021-04-16T13:47","max":38.8,"min":35.4,"g1":36.3,"g2":34.8,"g3":33.3,"g4":31.8,"g5":30.3,"g6":28.8,"g7":27.3,"g8":25.3},
    {"t":"2021-04-16T13:49","max":42.2,"min":36.3,"g1":35.7,"g2":34.2,"g3":32.7,"g4":31.2,"g5":29.7,"g6":28.2,"g7":26.7,"g8":24.7},
    {"t":"2021-04-16T13:59","max":43.2,"min":37.3,"g1":35.8,"g2":34.3,"g3":32.8,"g4":31.3,"g5":29.8,"g6":28.3,"g7":26.8,"g8":24.8},
    {"t":"2021-04-16T14:15","max":42.9,"min":38.2,"g1":36.7,"g2":35.2,"g3":33.7,"g4":32.2,"g5":30.7,"g6":29.2,"g7":27.7,"g8":25.7},
    {"t":"2021-04-16T14:31","max":43.4,"min":38.8,"g1":37.3,"g2":35.8,"g3":34.3,"g4":32.8,"g5":31.3,"g6":29.8,"g7":28.3,"g8":26.3},
    {"t":"2021-04-16T14:41","max":44.4,"min":39.6,"g1":38.1,"g2":36.6,"g3":35.1,"g4":33.6,"g5":32.1,"g6":30.6,"g7":29.1,"g8":27.1},
    {"t":"2021-04-16T14:45","max":45.6,"min":40.7,"g1":39.2,"g2":37.7,"g3":36.2,"g4":34.7,"g5":33.2,"g6":31.7,"g7":30.2,"g8":28.2},
    {"t":"2021-04-16T14:49","max":39.8,"min":36.6,"g1":37.1,"g2":35.6,"g3":34.1,"g4":32.6,"g5":31.1,"g6":29.6,"g7":28.1,"g8":26.1},
    {"t":"2021-04-16T14:53","max":42.9,"min":38.8,"g1":37.3,"g2":35.8,"g3":34.3,"g4":32.8,"g5":31.3,"g6":29.8,"g7":28.3,"g8":26.3},
    {"t":"2021-04-16T15:05","max":42.7,"min":38.4,"g1":36.9,"g2":35.4,"g3":33.9,"g4":32.4,"g5":30.9,"g6":29.4,"g7":27.9,"g8":25.9},
    {"t":"2021-04-16T15:11","max":43.2,"min":38.3,"g1":36.8,"g2":35.3,"g3":33.8,"g4":32.3,"g5":30.8,"g6":29.3,"g7":27.8,"g8":25.8},
    {"t":"2021-04-16T15:19","max":43.7,"min":38.8,"g1":37.3,"g2":35.8,"g3":34.3,"g4":32.8,"g5":31.3,"g6":29.8,"g7":28.3,"g8":26.3},
    {"t":"2021-04-16T15:35","max":43.9,"min":38.8,"g1":37.3,"g2":35.8,"g3":34.3,"g4":32.8,"g5":31.3,"g6":29.8,"g7":28.3,"g8":26.3},
    {"t":"2021-04-16T15:55","max":43.7,"min":38.8,"g1":37.3,"g2":35.8,"g3":34.3,"g4":32.8,"g5":31.3,"g6":29.8,"g7":28.3,"g8":26.3},
    {"t":"2021-04-16T15:59","max":39.3,"min":36.1,"g1":36.5,"g2":35.0,"g3":33.5,"g4":32.0,"g5":30.5,"g6":29.0,"g7":27.5,"g8":25.5}
  ],
  "d_dash": [{"t":"2021-04-16T10:17"},{"t":"2021-04-16T10:23"},{"t":"2021-04-16T11:26"},{"t":"2021-04-16T11:32"},{"t":"2021-04-16T12:31"},{"t":"2021-04-16T12:37"},{"t":"2021-04-16T13:41"},{"t":"2021-04-16T13:46"},{"t":"2021-04-16T14:44"},{"t":"2021-04-16T14:50"}]
},
"vconcat": [
  {
    "width": 319, "height": 195,
    "layer": [
      {"data": {"name": "a"}, "transform": [{"fold": ["g1","g2","g3","g4","g5","g6"], "as": ["s","v"]}],
       "mark": {"type": "line", "strokeWidth": 1, "opacity": 0.85, "clip": true},
       "encoding": {
         "x": {"field": "t", "type": "temporal", "title": "(a)0.25 P", "scale": {"domain": [{"year":2021,"month":4,"date":13,"hours":10,"minutes":40},{"year":2021,"month":4,"date":14,"hours":12,"minutes":54}]},
               "axis": {"values": [{"year":2021,"month":4,"date":13,"hours":12},{"year":2021,"month":4,"date":13,"hours":18},{"year":2021,"month":4,"date":14,"hours":0},{"year":2021,"month":4,"date":14,"hours":6},{"year":2021,"month":4,"date":14,"hours":12}], "format": "%m-%d\u2002%H:%M"}},
         "y": {"field": "v", "type": "quantitative", "title": "温度/℃", "scale": {"domain": [18, 32], "nice": false}, "axis": {"values": [18,20,22,24,26,28,30,32], "tickCount": 20, "format": "d"}},
         "color": {"field": "s", "type": "nominal", "scale": {"range": ["#b9b9c6","#c9c0ae","#a9bfb9","#cbb5c2","#b5b5b5","#c6c9a6"]}, "legend": null}
       }},
      {"data": {"name": "a_dash"}, "mark": {"type": "rule", "strokeDash": [1.5, 1.5], "color": "#555", "strokeWidth": 1},
       "encoding": {"x": {"field": "t", "type": "temporal", "title": "(a)0.25 P"}}},
      {"data": {"name": "a"}, "transform": [{"fold": ["p"], "as": ["s","v"]}], "mark": {"type": "line", "color": "#a8306a", "strokeWidth": 1.6, "clip": true},
       "encoding": {"x": {"field": "t", "type": "temporal", "title": "(a)0.25 P"}, "y": {"field": "v", "type": "quantitative", "title": "温度/℃"}}},
      {"data": {"name": "a"}, "transform": [{"fold": ["max","min"], "as": ["s","v"]}],
       "mark": {"type": "line", "strokeWidth": 3, "clip": true},
       "encoding": {
         "x": {"field": "t", "type": "temporal", "title": "(a)0.25 P"},
         "y": {"field": "v", "type": "quantitative", "title": "温度/℃"},
         "color": {"field": "s", "type": "nominal", "scale": {"domain": ["max","min"], "range": ["#1f6db3","#d9531e"]},
                   "legend": {"title": null, "labelExpr": "datum.label == 'max' ? 'BMS电芯最高温度' : 'BMS电芯最低温度'"}}
       }}
    ],
    "resolve": {"scale": {"color": "independent"}}
  },
  {
    "width": 334, "height": 195,
    "layer": [
      {"data": {"name": "b"}, "transform": [{"fold": ["g1","g2","g3","g4","g5","g6","g7"], "as": ["s","v"]}],
       "mark": {"type": "line", "strokeWidth": 1, "opacity": 0.85, "clip": true},
       "encoding": {
         "x": {"field": "t", "type": "temporal", "title": "(b)0.5 P", "scale": {"domain": [{"year":2021,"month":4,"date":11,"hours":17,"minutes":22},{"year":2021,"month":4,"date":12,"hours":6,"minutes":29}]},
               "axis": {"values": [{"year":2021,"month":4,"date":11,"hours":20},{"year":2021,"month":4,"date":12,"hours":0},{"year":2021,"month":4,"date":12,"hours":4}], "format": "%m-%d\u2002%H:%M"}},
         "y": {"field": "v", "type": "quantitative", "title": "温度/℃", "scale": {"domain": [20, 32], "nice": false}, "axis": {"values": [20,22,24,26,28,30,32], "tickCount": 20, "format": "d"}},
         "color": {"field": "s", "type": "nominal", "scale": {"range": ["#c3c0b0","#b9b9c6","#c9c8a8","#b7bfc9","#c6c2b4","#bfc4a8","#c8c3b6"]}, "legend": null}
       }},
      {"data": {"name": "b_dash"}, "mark": {"type": "rule", "strokeDash": [1.5, 1.5], "color": "#555", "strokeWidth": 1},
       "encoding": {"x": {"field": "t", "type": "temporal", "title": "(b)0.5 P"}}},
      {"data": {"name": "b"}, "transform": [{"fold": ["max","min"], "as": ["s","v"]}],
       "mark": {"type": "line", "strokeWidth": 3, "clip": true},
       "encoding": {
         "x": {"field": "t", "type": "temporal", "title": "(b)0.5 P"},
         "y": {"field": "v", "type": "quantitative", "title": "温度/℃"},
         "color": {"field": "s", "type": "nominal", "scale": {"domain": ["max","min"], "range": ["#1f6db3","#d9531e"]},
                   "legend": {"title": null, "labelExpr": "datum.label == 'max' ? 'BMS电芯最高温度' : 'BMS电芯最低温度'"}}
       }}
    ],
    "resolve": {"scale": {"color": "independent"}}
  },
  {
    "width": 335, "height": 196,
    "layer": [
      {"data": {"name": "c"}, "transform": [{"fold": ["g1","g2","g3","g4","g5","g6","g7","g8"], "as": ["s","v"]}],
       "mark": {"type": "line", "strokeWidth": 1, "opacity": 0.85, "clip": true},
       "encoding": {
         "x": {"field": "t", "type": "temporal", "title": "(c)0.75 P", "scale": {"domain": [{"year":2021,"month":4,"date":15,"hours":8,"minutes":38},{"year":2021,"month":4,"date":15,"hours":17,"minutes":15}]},
               "axis": {"values": [{"year":2021,"month":4,"date":15,"hours":9},{"year":2021,"month":4,"date":15,"hours":10},{"year":2021,"month":4,"date":15,"hours":11},{"year":2021,"month":4,"date":15,"hours":12},{"year":2021,"month":4,"date":15,"hours":13},{"year":2021,"month":4,"date":15,"hours":14},{"year":2021,"month":4,"date":15,"hours":15},{"year":2021,"month":4,"date":15,"hours":16},{"year":2021,"month":4,"date":15,"hours":17}], "format": "%H:%M"}},
         "y": {"field": "v", "type": "quantitative", "title": "温度/℃", "scale": {"domain": [18, 38], "nice": false}, "axis": {"values": [18,20,22,24,26,28,30,32,34,36,38], "tickCount": 20, "format": "d"}},
         "color": {"field": "s", "type": "nominal", "scale": {"range": ["#c9c3b2","#cfc9ae","#c0c6c6","#bdbdbd","#c8c2b0","#b8bcc4","#bfc6b4","#c4bfc6"]}, "legend": null}
       }},
      {"data": {"name": "c_dash"}, "mark": {"type": "rule", "strokeDash": [1.5, 1.5], "color": "#555", "strokeWidth": 1},
       "encoding": {"x": {"field": "t", "type": "temporal", "title": "(c)0.75 P"}}},
      {"data": {"name": "c"}, "transform": [{"fold": ["p"], "as": ["s","v"]}], "mark": {"type": "line", "color": "#a8306a", "strokeWidth": 1.6, "clip": true},
       "encoding": {"x": {"field": "t", "type": "temporal", "title": "(c)0.75 P"}, "y": {"field": "v", "type": "quantitative", "title": "温度/℃"}}},
      {"data": {"name": "c"}, "transform": [{"fold": ["max","min"], "as": ["s","v"]}],
       "mark": {"type": "line", "strokeWidth": 3, "clip": true},
       "encoding": {
         "x": {"field": "t", "type": "temporal", "title": "(c)0.75 P"},
         "y": {"field": "v", "type": "quantitative", "title": "温度/℃"},
         "color": {"field": "s", "type": "nominal", "scale": {"domain": ["max","min"], "range": ["#1f6db3","#d9531e"]},
                   "legend": {"title": null, "labelExpr": "datum.label == 'max' ? 'BMS电芯最高温度' : 'BMS电芯最低温度'"}}
       }}
    ],
    "resolve": {"scale": {"color": "independent"}}
  },
  {
    "width": 336, "height": 199,
    "layer": [
      {"data": {"name": "d"}, "transform": [{"fold": ["g1","g2","g3","g4","g5","g6","g7","g8"], "as": ["s","v"]}],
       "mark": {"type": "line", "strokeWidth": 1, "opacity": 0.85, "clip": true},
       "encoding": {
         "x": {"field": "t", "type": "temporal", "title": "(d)1 P", "scale": {"domain": [{"year":2021,"month":4,"date":16,"hours":9,"minutes":18},{"year":2021,"month":4,"date":16,"hours":16,"minutes":0}]},
               "axis": {"values": [{"year":2021,"month":4,"date":16,"hours":10},{"year":2021,"month":4,"date":16,"hours":11},{"year":2021,"month":4,"date":16,"hours":12},{"year":2021,"month":4,"date":16,"hours":13},{"year":2021,"month":4,"date":16,"hours":14},{"year":2021,"month":4,"date":16,"hours":15},{"year":2021,"month":4,"date":16,"hours":16}], "format": "%H:%M"}},
         "y": {"field": "v", "type": "quantitative", "title": "温度/℃", "scale": {"domain": [20, 49.5], "nice": false}, "axis": {"values": [20,25,30,35,40,45], "titlePadding": 1, "tickCount": 20, "format": "d"}},
         "color": {"field": "s", "type": "nominal", "scale": {"range": ["#c8cec8","#c4cbc6","#cdd0c8","#c2c9c9","#cfd2ca","#c6ccc4","#cacfcb","#c4c9c2"]}, "legend": null}
       }},
      {"data": {"name": "d_dash"}, "mark": {"type": "rule", "strokeDash": [1.5, 1.5], "color": "#555", "strokeWidth": 1},
       "encoding": {"x": {"field": "t", "type": "temporal", "title": "(d)1 P"}}},
      {"data": {"name": "d"}, "transform": [{"fold": ["max","min"], "as": ["s","v"]}],
       "mark": {"type": "line", "strokeWidth": 3, "clip": true},
       "encoding": {
         "x": {"field": "t", "type": "temporal", "title": "(d)1 P"},
         "y": {"field": "v", "type": "quantitative", "title": "温度/℃"},
         "color": {"field": "s", "type": "nominal", "scale": {"domain": ["max","min"], "range": ["#1f6db3","#d9531e"]},
                   "legend": {"title": null, "labelExpr": "datum.label == 'max' ? 'BMS电芯最高温度' : 'BMS电芯最低温度'"}}
       }}
    ],
    "resolve": {"scale": {"color": "independent"}}
  }
],
"resolve": {"scale": {"x": "independent", "y": "independent", "color": "independent"}, "legend": {"color": "independent"}}
}
